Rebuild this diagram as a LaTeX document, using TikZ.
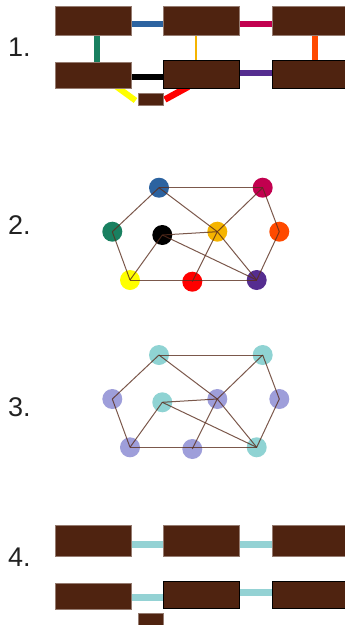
\documentclass[tikz,border=0pt]{standalone}
\usepackage{fontspec}
\setmainfont{Liberation Sans}
\usetikzlibrary{calc}
\pgfdeclarelayer{bg}
\pgfsetlayers{bg,main}
\definecolor{boxbrown}{HTML}{4F2310}
\definecolor{cblue}{HTML}{2C63A0}
\definecolor{ccrim}{HTML}{C2004F}
\definecolor{cgreen}{HTML}{198060}
\definecolor{cgold}{HTML}{F5B400}
\definecolor{corange}{HTML}{FF4A00}
\definecolor{cpurple}{HTML}{552D90}
\definecolor{cyellow}{HTML}{FFFF00}
\definecolor{cred}{HTML}{FF0000}
\definecolor{ccyan}{HTML}{8FD3D3}
\definecolor{clav}{HTML}{9E9EDA}
\definecolor{cline}{HTML}{94D2D4}
\definecolor{edgebrown}{HTML}{5A2E1E}
\definecolor{labelgray}{HTML}{222222}
\tikzset{
  box/.style={rectangle, fill=boxbrown, draw=boxbrown!60!white, line width=0.4pt, inner sep=0pt, minimum width=76pt},
  boxb/.style={box, draw=black, line width=0.8pt},
  dot/.style={circle, inner sep=0pt, minimum size=20pt},
  conn/.style={line width=6pt},
  gedge/.style={draw=edgebrown, opacity=0.8, line width=1pt},
  lab/.style={anchor=base west, inner sep=0pt, font=\fontsize{27}{30}\selectfont, text=labelgray}
}
\begin{document}
\begin{tikzpicture}[x=1pt,y=-1pt]
\useasboundingbox (0,0) rectangle (345,625);
% labels
\node[lab] (l1) at (8,56) {1.};
\node[lab] (l2) at (8,234) {2.};
\node[lab] (l3) at (8,416) {3.};
\node[lab] (l4) at (8,566) {4.};
% ---------- panel 1
\node[box, minimum height=29pt] (A) at (92.8,20.2) {};
\node[box, minimum height=29pt] (B) at (201.3,20.2) {};
\node[box, minimum height=29pt] (C) at (310.3,20.2) {};
\node[box, minimum height=26pt] (D) at (92.8,75.3) {};
\node[boxb, minimum height=28pt] (E) at (201.3,74.3) {};
\node[boxb, minimum height=28pt] (F) at (310.3,74.3) {};
\node[box, minimum width=25pt, minimum height=12pt] (G) at (150.2,99.5) {};
\begin{pgfonlayer}{bg}
\draw[conn, cblue] ([yshift=-3.8pt]A.east) -- ([yshift=-3.8pt]B.west);
\draw[conn, ccrim] ([yshift=-3.8pt]B.east) -- ([yshift=-3.8pt]C.west);
\draw[conn, cgreen] ([xshift=3.9pt]A.south) -- ([xshift=3.9pt]D.north);
\draw[line width=2pt, cgold] ([xshift=-5.3pt]B.south) -- ([xshift=-5.3pt]E.north);
\draw[conn, corange] ([xshift=5pt]C.south) -- ([xshift=5pt]F.north);
\draw[conn, black] ([yshift=-1.4pt]D.east) -- ([yshift=-1.4pt]D.east -| E.west);
\draw[conn, cpurple] ([yshift=1.6pt]E.east) -- ([yshift=1.6pt]F.west);
\draw[conn, cyellow] ([xshift=23.5pt,yshift=2pt]D.south) -- ([xshift=-2pt,yshift=-1pt]G.west);
\draw[line width=6.5pt, cred] ([xshift=-13pt,yshift=2pt]E.south) -- ([xshift=2pt]G.east);
\end{pgfonlayer}
% ---------- panel 2
\node[dot, fill=cblue] (n1) at (159,187.7) {};
\node[dot, fill=ccrim] (n2) at (262.7,187.7) {};
\node[dot, fill=cgreen] (n3) at (112.3,231.7) {};
\node[dot, fill=black] (n4) at (162.3,235) {};
\node[dot, fill=cgold] (n5) at (217.3,231.7) {};
\node[dot, fill=corange] (n6) at (279.3,231.7) {};
\node[dot, fill=cyellow] (n7) at (130,280) {};
\node[dot, fill=cred] (n8) at (192.3,281.7) {};
\node[dot, fill=cpurple] (n9) at (256.7,280) {};
\draw[gedge] (n1.center) -- (n2.center);
\draw[gedge] (n1.center) -- (n3.center);
\draw[gedge] (n3.center) -- (n7.center);
\draw[gedge] (n1.center) -- (n5.center);
\draw[gedge] (n5.center) -- (n9.center);
\draw[gedge] (n2.center) -- (n5.center);
\draw[gedge] (n5.center) -- (n8.center);
\draw[gedge] (n2.center) -- (n6.center);
\draw[gedge] (n6.center) -- (n9.center);
\draw[gedge] (n4.center) -- (n5.center);
\draw[gedge] (n4.center) -- (n7.center);
\draw[gedge] (n4.center) -- (n9.center);
\draw[gedge] (n7.center) -- (n9.center);
% ---------- panel 3
\node[dot, fill=ccyan] (m1) at (159,355) {};
\node[dot, fill=ccyan] (m2) at (262.7,355) {};
\node[dot, fill=clav] (m3) at (112.3,399) {};
\node[dot, fill=ccyan] (m4) at (162.3,402.3) {};
\node[dot, fill=clav] (m5) at (217.3,399) {};
\node[dot, fill=clav] (m6) at (279.3,399) {};
\node[dot, fill=clav] (m7) at (130,447.3) {};
\node[dot, fill=clav] (m8) at (192.3,449) {};
\node[dot, fill=ccyan] (m9) at (256.7,447.3) {};
\draw[gedge] (m1.center) -- (m2.center);
\draw[gedge] (m1.center) -- (m3.center);
\draw[gedge] (m3.center) -- (m7.center);
\draw[gedge] (m1.center) -- (m5.center);
\draw[gedge] (m5.center) -- (m9.center);
\draw[gedge] (m2.center) -- (m5.center);
\draw[gedge] (m5.center) -- (m8.center);
\draw[gedge] (m2.center) -- (m6.center);
\draw[gedge] (m6.center) -- (m9.center);
\draw[gedge] (m4.center) -- (m5.center);
\draw[gedge] (m4.center) -- (m7.center);
\draw[gedge] (m4.center) -- (m9.center);
\draw[gedge] (m7.center) -- (m9.center);
% ---------- panel 4
\node[box, minimum height=31.3pt] (P) at (92.8,540.7) {};
\node[box, minimum height=31.3pt] (Q) at (201.3,540.7) {};
\node[box, minimum height=31.3pt] (R) at (310.3,540.7) {};
\node[box, minimum height=26pt] (S) at (92.8,595.7) {};
\node[boxb, minimum height=27pt] (T) at (201.3,595.2) {};
\node[boxb, minimum height=27pt] (U) at (310.3,595.2) {};
\node[box, minimum width=25pt, minimum height=14pt] (V) at (150.2,619.7) {};
\begin{pgfonlayer}{bg}
\draw[line width=7pt, cline] ([yshift=-3.3pt]P.east) -- ([yshift=-3.3pt]Q.west);
\draw[line width=7pt, cline] ([yshift=-3.3pt]Q.east) -- ([yshift=-3.3pt]R.west);
\draw[line width=7pt, cline] ([yshift=-1.3pt]S.east) -- ([yshift=-1.3pt]S.east -| T.west);
\draw[line width=7pt, cline] ([yshift=2.5pt]T.east) -- ([yshift=2.5pt]T.east -| U.west);
\end{pgfonlayer}
\end{tikzpicture}
\end{document}
